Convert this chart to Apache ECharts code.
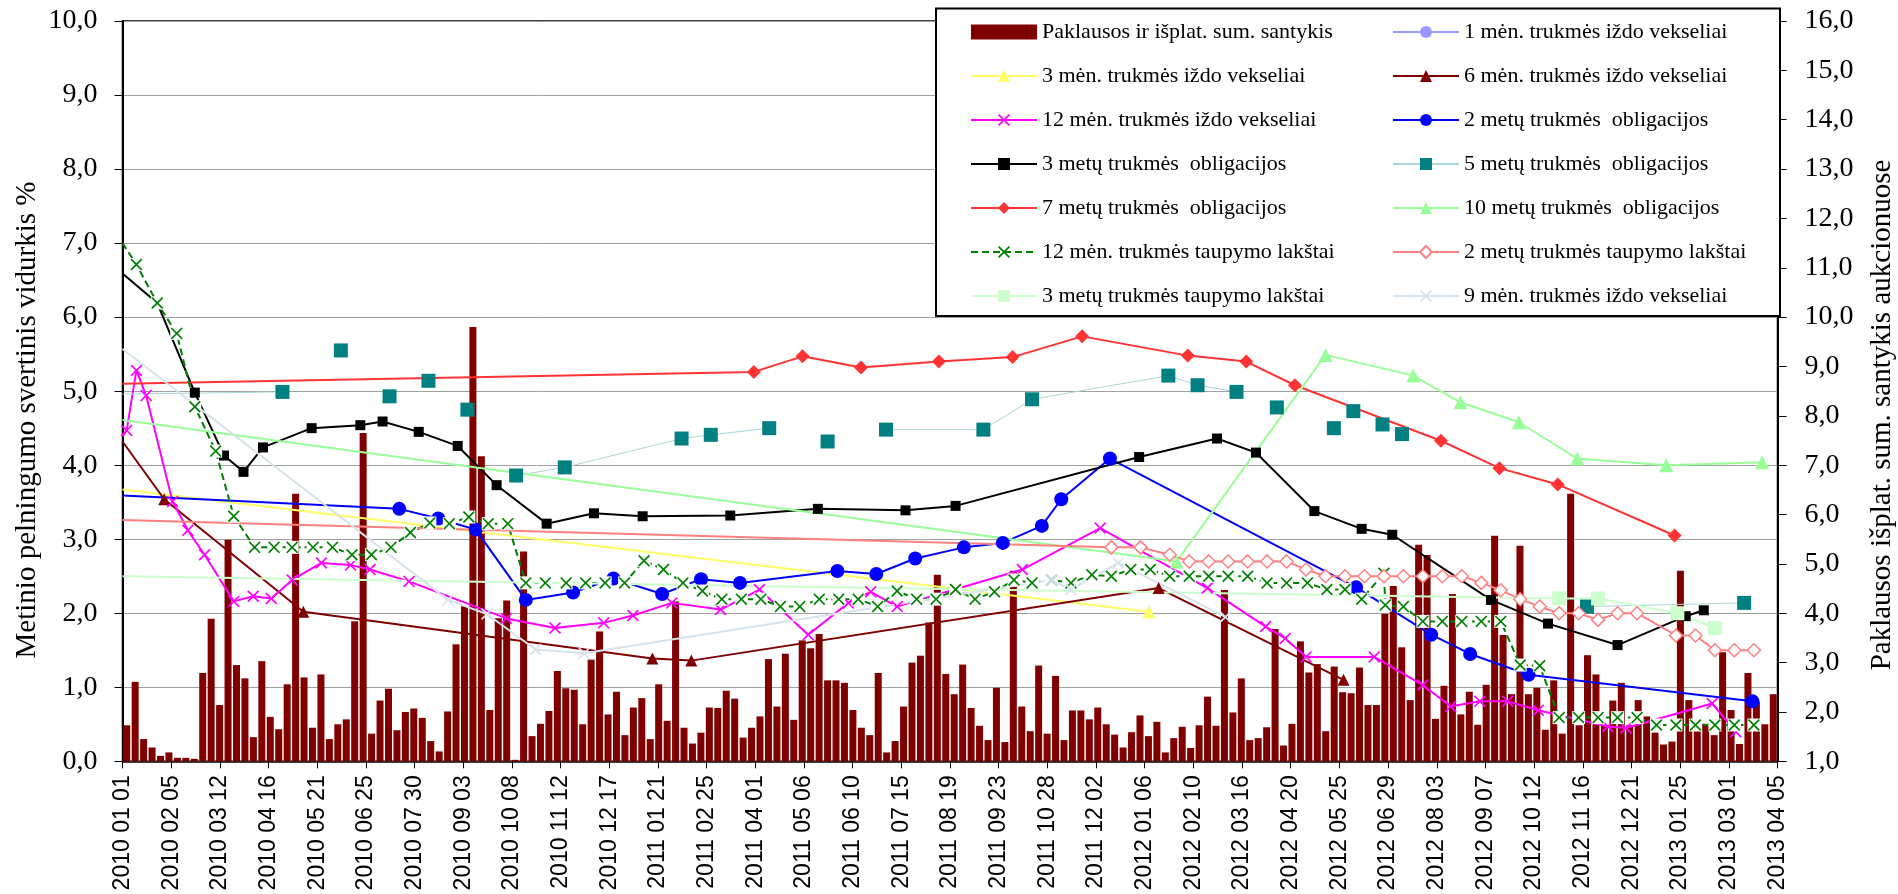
<!DOCTYPE html>
<html><head><meta charset="utf-8">
<script src="https://cdn.jsdelivr.net/npm/echarts/dist/echarts.min.js"></script>
<style>html,body{margin:0;padding:0;background:#fff}#c{width:1898px;height:894px}</style>
</head><body><div id="c"></div>
<script>
// ---- Bars: demand / issued amount ratio per auction (right axis) ----
const barValues = [
 1.73,2.61,1.45,1.28,1.11,1.18,1.07,1.07,1.05,2.79,
 3.89,2.14,5.49,2.95,2.68,1.49,3.03,1.90,1.65,2.56,
 6.42,2.70,1.68,2.76,1.45,1.75,1.85,3.84,7.65,1.56,
 2.23,2.47,1.63,2.00,2.07,1.88,1.41,1.20,2.01,3.37,
 4.14,9.80,7.18,2.04,3.90,4.26,1.03,5.25,1.51,
 1.76,2.02,2.83,2.48,2.45,1.75,3.06,3.63,1.95,2.41,
 1.53,2.09,2.28,1.45,2.56,1.82,4.24,1.68,1.36,1.58,
 2.09,2.08,2.43,2.27,1.48,1.68,1.91,3.07,2.11,3.18,
 1.84,3.45,3.29,3.58,2.64,2.64,2.59,2.04,1.68,1.53,
 2.79,1.18,1.41,2.11,3.00,3.14,3.81,4.78,2.77,
 2.36,2.96,2.08,1.72,1.43,2.49,1.39,4.86,2.11,1.61,
 2.94,1.56,2.73,1.43,2.03,2.03,1.85,2.09,1.75,1.54,
 1.28,1.59,1.93,1.51,1.80,1.18,1.47,1.70,1.27,1.73,
 2.31,1.72,4.47,1.99,2.68,1.43,1.47,1.69,3.68,1.32,
 1.76,3.43,2.80,2.97,1.61,2.92,2.40,2.38,2.90,
 2.14,2.14,3.99,4.55,3.31,2.24,5.39,5.18,1.86,2.53,
 4.39,1.95,2.41,1.74,2.55,5.57,3.56,2.36,5.37,2.36,
 2.49,1.64,2.64,1.56,6.42,1.73,3.15,2.76,1.73,2.23,
 2.59,1.73,2.24,1.91,1.58,1.34,1.40,4.86,2.24,1.66,
 1.76,1.53,3.21,2.04,1.35,2.79,2.20,1.75,2.36
];
const auctionNo = barValues.map((v, i) => String(i + 1));

// ---- Yield series: x = days since 2010-01-01, y = yield % (left axis) ----
const m1Days = [], m1Vals = [];
const m3Days = [0, 738];
const m3Vals = [3.67, 2.02];
const m6Days = [0, 30, 130, 381, 409, 745, 878];
const m6Vals = [4.32, 3.54, 2.02, 1.39, 1.36, 2.34, 1.10];
const m12Days = [0,3,10,17,36,47,59,80,94,107,122,143,164,178,206,276,311,346,367,395,430,458,493,522,538,557,647,703,780,822,836,851,900,935,955,976,996,1018,1068,1081,1143,1160];
const m12Vals = [4.39,4.47,5.28,4.94,3.51,3.12,2.79,2.16,2.23,2.20,2.45,2.68,2.65,2.59,2.43,1.93,1.80,1.87,1.97,2.14,2.05,2.32,1.71,2.14,2.29,2.09,2.59,3.15,2.34,1.82,1.66,1.41,1.41,1.03,0.74,0.81,0.81,0.69,0.47,0.45,0.78,0.40];
const o2Days = [0,199,227,254,290,324,353,388,416,444,514,542,570,605,633,661,675,710,887,941,969,1011,1172];
const o2Vals = [3.59,3.41,3.28,3.13,2.18,2.28,2.47,2.26,2.46,2.41,2.57,2.53,2.74,2.89,2.95,3.18,3.54,4.09,2.35,1.71,1.45,1.17,0.81];
const o3Days = [0,25,52,73,87,101,136,171,187,213,241,269,305,339,374,437,500,563,599,731,787,815,857,891,913,984,1025,1075,1124,1137];
const o3Vals = [6.59,6.19,4.98,4.13,3.91,4.24,4.50,4.54,4.59,4.45,4.26,3.73,3.21,3.35,3.31,3.32,3.41,3.39,3.45,4.11,4.36,4.17,3.38,3.14,3.06,2.18,1.86,1.57,1.96,2.04];
const o5Days = [0,115,null,157,null,192,null,220,null,248,null,283,318,402,423,465,null,507,null,549,619,654,752,773,801,null,830,null,871,null,885,null,906,920,null,1053,1166];
const o5Vals = [4.96,4.99,null,5.55,null,4.93,null,5.14,null,4.75,null,3.86,3.97,4.36,4.41,4.50,null,4.32,null,4.48,4.48,4.89,5.21,5.08,4.99,null,4.78,null,4.50,null,4.73,null,4.55,4.42,null,2.09,2.14];
const o7Days = [0,454,489,531,587,640,690,766,808,843,948,990,1032,1116];
const o7Vals = [5.10,5.26,5.47,5.32,5.40,5.46,5.74,5.48,5.40,5.08,4.33,3.96,3.74,3.05];
const o10Days = [0,758,865,928,962,1004,1046,1110,1179];
const o10Vals = [4.61,2.70,5.49,5.21,4.85,4.58,4.09,4.00,4.04];
const t12Days = [0,10,25,39,52,67,80,95,109,122,137,151,165,179,193,207,221,235,249,263,277,290,304,319,333,347,361,375,389,403,417,431,445,459,473,487,501,515,529,543,557,571,585,599,613,627,641,654,668,682,697,711,725,739,753,767,781,795,809,823,837,852,866,879,891,907,908,921,935,949,963,977,991,1005,1019,1033,1047,1061,1075,1089,1103,1117,1131,1145,1159,1173];
const t12Vals = [7.0,6.71,6.19,5.78,4.79,4.19,3.31,2.89,2.89,2.89,2.89,2.89,2.79,2.79,2.89,3.09,3.22,3.21,3.30,3.21,3.21,2.41,2.41,2.41,2.41,2.41,2.41,2.71,2.59,2.41,2.30,2.19,2.19,2.19,2.09,2.09,2.19,2.19,2.19,2.09,2.30,2.19,2.19,2.32,2.19,2.29,2.45,2.41,2.45,2.41,2.52,2.50,2.59,2.59,2.50,2.50,2.50,2.50,2.50,2.41,2.41,2.41,2.32,2.32,2.19,2.54,2.11,2.09,1.89,1.89,1.89,1.89,1.89,1.30,1.29,0.59,0.59,0.59,0.59,0.59,0.49,0.49,0.49,0.49,0.49,0.49];
const t2Days = [0,711,732,753,767,781,795,809,823,837,851,865,879,893,907,921,935,949,963,977,991,1005,1019,1033,1047,1061,1075,1089,1117,1131,1145,1159,1173];
const t2Vals = [3.26,2.89,2.89,2.79,2.70,2.70,2.70,2.70,2.70,2.70,2.59,2.50,2.50,2.50,2.50,2.50,2.50,2.50,2.50,2.41,2.31,2.19,2.09,2.00,2.00,1.91,2.00,2.00,1.70,1.70,1.50,1.50,1.50];
const t3Days = [0, 1033, 1061, 1118, 1145];
const t3Vals = [2.50, 2.20, 2.20, 2.00, 1.80];
const m9Days = [0, 234, 262, 297, 332, 668, 682, 716, 793];
const m9Vals = [5.57, 2.18, 1.99, 1.51, 1.46, 2.45, 2.32, 2.68, 1.95];

const leftTicks = {min: 0, max: 10, interval: 1};
const rightTicks = {min: 1, max: 16, interval: 1};
const dayTicks = {min: 0, max: 1190, interval: 35};

// ---- helpers ----
const BASE = Date.UTC(2010, 0, 1);
function pad(n) { return (n < 10 ? '0' : '') + n; }
function dayLabel(d) {
  const dt = new Date(BASE + d * 86400000);
  return dt.getUTCFullYear() + ' ' + pad(dt.getUTCMonth() + 1) + ' ' + pad(dt.getUTCDate());
}
function comma(v) { return Number(v).toFixed(1).replace('.', ','); }
function pts(days, vals) {
  return days.map((d, i) => (d === null || vals[i] === null) ? '-' :
    (d === 0 ? {value: [d, vals[i]], symbol: 'none'} : [d, vals[i]]));
}
const XS = 'path://M1,0L5,4L9,0L10,1L6,5L10,9L9,10L5,6L1,10L0,9L4,5L0,1Z';

function lineSeries(name, days, vals, color, symbol, size, opts) {
  opts = opts || {};
  return {
    name: name, type: 'line', xAxisIndex: 0, yAxisIndex: 0,
    data: pts(days, vals), symbol: symbol, symbolSize: size,
    showSymbol: true, connectNulls: false, silent: true, animation: false,
    lineStyle: Object.assign({color: color, width: 2}, opts.lineStyle || {}),
    itemStyle: Object.assign({color: color}, opts.itemStyle || {}),
    emphasis: {disabled: true}, z: 3
  };
}

const N = {
  bar: 'Paklausos ir išplat. sum. santykis',
  m1: '1 mėn. trukmės iždo vekseliai',
  m3: '3 mėn. trukmės iždo vekseliai',
  m6: '6 mėn. trukmės iždo vekseliai',
  m12: '12 mėn. trukmės iždo vekseliai',
  o2: '2 metų trukmės  obligacijos',
  o3: '3 metų trukmės  obligacijos',
  o5: '5 metų trukmės  obligacijos',
  o7: '7 metų trukmės  obligacijos',
  o10: '10 metų trukmės  obligacijos',
  t12: '12 mėn. trukmės taupymo lakštai',
  t2: '2 metų trukmės taupymo lakštai',
  t3: '3 metų trukmės taupymo lakštai',
  m9: '9 mėn. trukmės iždo vekseliai'
};

// white marker backgrounds of the 12-month savings notes series
const t12Background = {
  name: 't12-bg', type: 'line', xAxisIndex: 0, yAxisIndex: 0, data: pts(t12Days, t12Vals),
  symbol: 'rect', symbolSize: 13, showSymbol: true, silent: true, animation: false,
  lineStyle: {width: 0, opacity: 0}, itemStyle: {color: '#ffffff'}, emphasis: {disabled: true}, z: 3
};

const series = [
  {name: N.bar, type: 'bar', xAxisIndex: 1, yAxisIndex: 1, data: barValues, barWidth: 7,
   itemStyle: {color: '#800000'}, silent: true, animation: false, clip: true, z: 2,
   emphasis: {disabled: true}},
  lineSeries(N.m1, m1Days, m1Vals, '#9999FF', 'circle', 12),
  lineSeries(N.m3, m3Days, m3Vals, '#FFFF66', 'triangle', 13),
  lineSeries(N.m6, m6Days, m6Vals, '#800000', 'triangle', 12),
  lineSeries(N.m12, m12Days, m12Vals, '#FF00FF', XS, 12),
  lineSeries(N.o2, o2Days, o2Vals, '#0000FF', 'circle', 14),
  lineSeries(N.o3, o3Days, o3Vals, '#000000', 'rect', 10),
  lineSeries(N.o5, o5Days, o5Vals, '#008080', 'rect', 14, {lineStyle: {color: '#A9D6D6', width: 1}}),
  lineSeries(N.o7, o7Days, o7Vals, '#FF3333', 'diamond', 14),
  lineSeries(N.o10, o10Days, o10Vals, '#99FF99', 'triangle', 14),
  t12Background,
  lineSeries(N.t12, t12Days, t12Vals, '#008000', XS, 12, {lineStyle: {type: [7, 4]}}),
  lineSeries(N.t2, t2Days, t2Vals, '#FF8080', 'diamond', 13, {itemStyle: {color: '#ffffff', borderColor: '#FF8080', borderWidth: 1.5}}),
  lineSeries(N.t3, t3Days, t3Vals, '#CCFFCC', 'rect', 14),
  lineSeries(N.m9, m9Days, m9Vals, '#D6E3EE', XS, 12)
];

const legendBase = {
  orient: 'vertical', top: 21, itemWidth: 66, itemHeight: 15, itemGap: 22, padding: 0,
  selectedMode: false, z: 60,
  textStyle: {fontFamily: 'Liberation Serif', fontSize: 22, color: '#000', lineHeight: 22}
};

const option = {
  animation: false,
  backgroundColor: '#ffffff',
  grid: {left: 122.5, right: 120.5, top: 21, bottom: 132.7, show: true, borderColor: '#000', borderWidth: 1.5,
         containLabel: false, outerBoundsMode: 'none'},
  legend: [
    Object.assign({}, legendBase, {left: 970, data: [
      {name: N.bar, icon: 'rect'}, N.m3, N.m12, N.o3, N.o7, N.t12, N.t3]}),
    Object.assign({}, legendBase, {left: 1392, data: [N.m1, N.m6, N.o2, N.o5, N.o10, N.t2, N.m9]})
  ],
  xAxis: [
    {type: 'value', min: dayTicks.min, max: dayTicks.max, interval: dayTicks.interval, gridIndex: 0,
     axisLine: {show: true, lineStyle: {color: '#000', width: 1.5}},
     axisTick: {show: true, length: 7, lineStyle: {color: '#000'}},
     splitLine: {show: false},
     axisLabel: {rotate: 90, margin: 14, fontFamily: 'Liberation Sans', fontSize: 23, color: '#000',
                 formatter: dayLabel, showMinLabel: true, showMaxLabel: true, hideOverlap: false}},
    {type: 'category', data: auctionNo, gridIndex: 0, show: false, boundaryGap: true}
  ],
  yAxis: [
    {type: 'value', min: leftTicks.min, max: leftTicks.max, interval: leftTicks.interval, position: 'left',
     axisLine: {show: true, lineStyle: {color: '#000', width: 2}},
     axisTick: {show: true, length: 8, lineStyle: {color: '#000'}},
     splitLine: {show: true, lineStyle: {color: '#A0A0A0', width: 1}},
     axisLabel: {margin: 25, fontFamily: 'Liberation Serif', fontSize: 28, color: '#000', formatter: comma}},
    {type: 'value', min: rightTicks.min, max: rightTicks.max, interval: rightTicks.interval, position: 'right',
     axisLine: {show: true, lineStyle: {color: '#000', width: 2}},
     axisTick: {show: true, length: 9, lineStyle: {color: '#000'}},
     splitLine: {show: false},
     axisLabel: {margin: 27, fontFamily: 'Liberation Serif', fontSize: 28, color: '#000', formatter: comma}}
  ],
  graphic: [
    {type: 'rect', z: 50, silent: true,
     shape: {x: 936, y: 8.5, width: 844, height: 307.5},
     style: {fill: '#ffffff', stroke: '#000000', lineWidth: 2}},
    {type: 'text', z: 50, silent: true, x: 27, y: 420, rotation: Math.PI / 2,
     style: {text: 'Metinio pelningumo svertinis vidurkis %', fontFamily: 'Liberation Serif', fontSize: 29,
             fill: '#000', align: 'center', verticalAlign: 'middle', textAlign: 'center', textVerticalAlign: 'middle'}},
    {type: 'text', z: 50, silent: true, x: 1882, y: 415, rotation: Math.PI / 2,
     style: {text: 'Paklausos išplat. sum. santykis aukcionuose', fontFamily: 'Liberation Serif', fontSize: 29,
             fill: '#000', align: 'center', verticalAlign: 'middle', textAlign: 'center', textVerticalAlign: 'middle'}}
  ],
  series: series
};

const chart = echarts.init(document.getElementById('c'), null, {renderer: 'canvas', width: 1898, height: 894});
chart.setOption(option);
</script></body></html>
